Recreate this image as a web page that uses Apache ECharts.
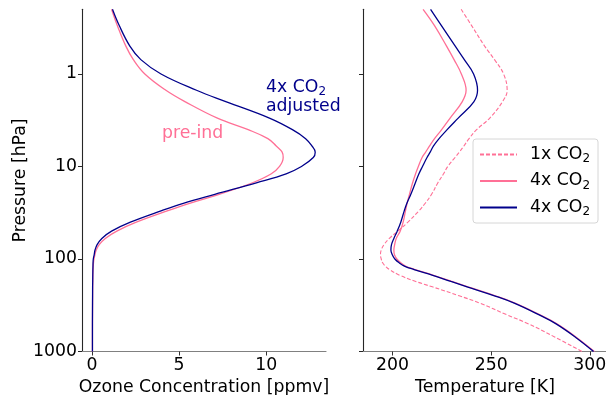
<!DOCTYPE html>
<html>
<head>
<meta charset="utf-8">
<script src="https://cdn.jsdelivr.net/npm/echarts@6/dist/echarts.min.js"></script>
<style>
  html, body { margin: 0; padding: 0; background: #fff; }
  #chart { width: 606px; height: 395px; }
</style>
</head>
<body>
<div id="chart"></div>
<script>
// ---------------- data ----------------
const pressure = [0.2, 0.3, 0.5, 0.7, 1, 1.5, 2, 3, 4, 5, 6, 7, 8, 10, 12, 15, 20, 25, 30, 40,
                  50, 60, 70, 80, 90, 100, 110, 120, 130, 150, 175, 200, 250, 300, 400, 500, 700, 1000];

// Ozone concentration [ppmv]
const ozonePreInd = [1.12, 1.45, 1.94, 2.37, 3.03, 4.24, 5.36, 7.2, 8.97, 10.1, 10.58, 10.92, 10.98, 10.77, 10.3,
                     9.22, 7.3, 5.6, 4.36, 2.54, 1.42, 0.76, 0.41, 0.24, 0.16, 0.11, 0.08, 0.065, 0.055, 0.045,
                     0.04, 0.035, 0.03, 0.028, 0.025, 0.022, 0.02, 0.02];
const ozone4xAdj = [1.17, 1.56, 2.17, 2.8, 3.96, 6.0, 7.72, 10.19, 11.51, 12.27, 12.63, 12.82, 12.71, 12.03, 11.15,
                    9.44, 7.05, 5.24, 4.0, 2.2, 1.12, 0.56, 0.29, 0.17, 0.12, 0.07, 0.055, 0.05, 0.045, 0.04,
                    0.035, 0.03, 0.028, 0.025, 0.022, 0.02, 0.02, 0.02];

// Temperature [K]
const temp1x = [234.8, 240.1, 246.7, 251.7, 256.3, 258.1, 255.7, 249.3, 242.6, 238.8, 236.2, 233.9, 231.7, 228, 225.9,
                223, 219.8, 216.6, 213.5, 207.8, 202.7, 198.4, 195.7, 194.3, 193.9, 194.3, 195, 196.5, 198.5, 203.7,
                211.8, 220.2, 233.8, 244.3, 257.8, 268.7, 282.4, 296];
const temp4x = [215.5, 221.3, 227.4, 231.2, 234.9, 237.3, 235.3, 229.2, 224.9, 221.3, 218.8, 216.8, 215, 213.1, 211.7,
                210.2, 208.6, 207.4, 206.6, 205.4, 203.9, 201.9, 201.1, 200.7, 201, 202.2, 204.2, 206.8, 211.4, 220.8,
                230.1, 238.2, 252.1, 262.1, 274.5, 283.1, 293.1, 302.3];
const temp4xAdj = [219.3, 224.8, 231.8, 236.4, 241.1, 243.1, 241.2, 233.3, 227.7, 223.6, 220.8, 219.1, 217.5, 215.2, 213.4,
                   211.6, 209.3, 207.3, 206, 204.2, 202.4, 200.7, 199.5, 199.2, 199.9, 201.2, 203.4, 206.3, 211, 220.4,
                   229.6, 237.8, 251.7, 261.7, 274.1, 282.7, 292.7, 301.9];

const pressureTicks = [1, 10, 100, 1000];
const ozoneTicks = [0, 5, 10];
const tempTicks = [200, 250, 300];

// ---------------- styling ----------------
const FONT = 'DejaVu Sans';
const FS = 17.3;
const PINK = '#ff7096';
const BLUE = '#00008b';

const pairs = (xs) => xs.map((x, i) => [x, pressure[i]]);

const chart = echarts.init(document.getElementById('chart'), null, { renderer: 'canvas' });

function yAxisCfg(grid, showLabels, withName) {
  return {
    type: 'log', logBase: 10, gridIndex: grid, min: 0.2, max: 1000, inverse: true,
    axisLine: { show: true, onZero: false, lineStyle: { color: '#262626', width: 1.1 } },
    axisTick: { show: true, length: 4, customValues: pressureTicks, lineStyle: { color: '#262626' } },
    axisLabel: { show: showLabels, customValues: pressureTicks, fontSize: FS, fontFamily: FONT, color: '#000', margin: 5,
                 formatter: (v) => String(v) },
    splitLine: { show: false },
    minorTick: { show: false },
    name: withName ? 'Pressure [hPa]' : '',
    nameLocation: 'middle', nameGap: 49, nameRotate: 90,
    nameTextStyle: { fontSize: FS, fontFamily: FONT, color: '#000' }
  };
}
function xAxisCfg(grid, min, max, ticks, name) {
  return {
    type: 'value', gridIndex: grid, min: min, max: max,
    axisLine: { show: true, onZero: false, lineStyle: { color: '#808080', width: 1.1 } },
    axisTick: { show: true, length: 4, customValues: ticks, lineStyle: { color: '#333' } },
    axisLabel: { customValues: ticks, fontSize: FS, fontFamily: FONT, color: '#000', margin: 6 },
    splitLine: { show: false },
    name: name, nameLocation: 'middle', nameGap: 19,
    nameTextStyle: { fontSize: FS, fontFamily: FONT, color: '#000' }
  };
}

const legendNames = { '1x': '1x CO', '4x': '4x CO', '4xadj': '4x CO' };

const lineSeries = (name, xi, yi, vals, color, width, type) => ({
  name: name, type: 'line', xAxisIndex: xi, yAxisIndex: yi, data: pairs(vals),
  symbol: 'none', smooth: 0.4,
  lineStyle: { color: color, width: width, type: type || 'solid' }, itemStyle: { color: color }
});

const option = {
  backgroundColor: '#fff',
  animation: false,
  grid: [
    { left: 82, top: 9.3, width: 244, height: 342.2, containLabel: false, outerBoundsMode: 'none' },
    { left: 363, top: 9.3, width: 244, height: 342.2, containLabel: false, outerBoundsMode: 'none' }
  ],
  xAxis: [
    xAxisCfg(0, -0.58, 13.44, ozoneTicks, 'Ozone Concentration [ppmv]'),
    xAxisCfg(1, 185.06, 308.7, tempTicks, 'Temperature [K]')
  ],
  yAxis: [ yAxisCfg(0, true, true), yAxisCfg(1, false, false) ],
  legend: {
    left: 473, top: 139, orient: 'vertical',
    padding: [7, 8, 5, 6], itemGap: 7.5, itemWidth: 37, itemHeight: 14,
    backgroundColor: 'rgba(255,255,255,0.85)', borderColor: '#d6d6d6', borderWidth: 1, borderRadius: 3,
    itemStyle: { opacity: 0 },
    data: ['1x', '4x', '4xadj'],
    formatter: (n) => '{m|' + legendNames[n] + '}{s|2}',
    textStyle: {
      fontFamily: FONT, fontSize: FS, color: '#000',
      rich: {
        m: { fontFamily: FONT, fontSize: FS, color: '#000', padding: [0, 0, 0, 8] },
        s: { fontFamily: FONT, fontSize: 12, color: '#000', padding: [9, 0, 0, 0] }
      }
    }
  },
  series: [
    lineSeries('pre', 0, 0, ozonePreInd, PINK, 1.3),
    lineSeries('adj', 0, 0, ozone4xAdj, BLUE, 1.3),
    lineSeries('1x', 1, 1, temp1x, PINK, 1.1, [4, 2]),
    lineSeries('4x', 1, 1, temp4x, PINK, 1.3),
    lineSeries('4xadj', 1, 1, temp4xAdj, BLUE, 1.3)
  ],
  graphic: [
    { type: 'text', left: 266, top: 77, z: 10,
      style: { text: '{m|4x CO}{s|2}\n{m|adjusted}', fill: BLUE,
        rich: {
          m: { fontFamily: FONT, fontSize: FS, fill: BLUE, lineHeight: 19 },
          s: { fontFamily: FONT, fontSize: 12, fill: BLUE, padding: [9, 0, 0, 0], lineHeight: 19 }
        } } },
    { type: 'text', left: 162, top: 125, z: 10,
      style: { text: 'pre-ind', fill: PINK, font: FS + 'px ' + FONT } }
  ]
};
chart.setOption(option);
</script>
</body>
</html>
